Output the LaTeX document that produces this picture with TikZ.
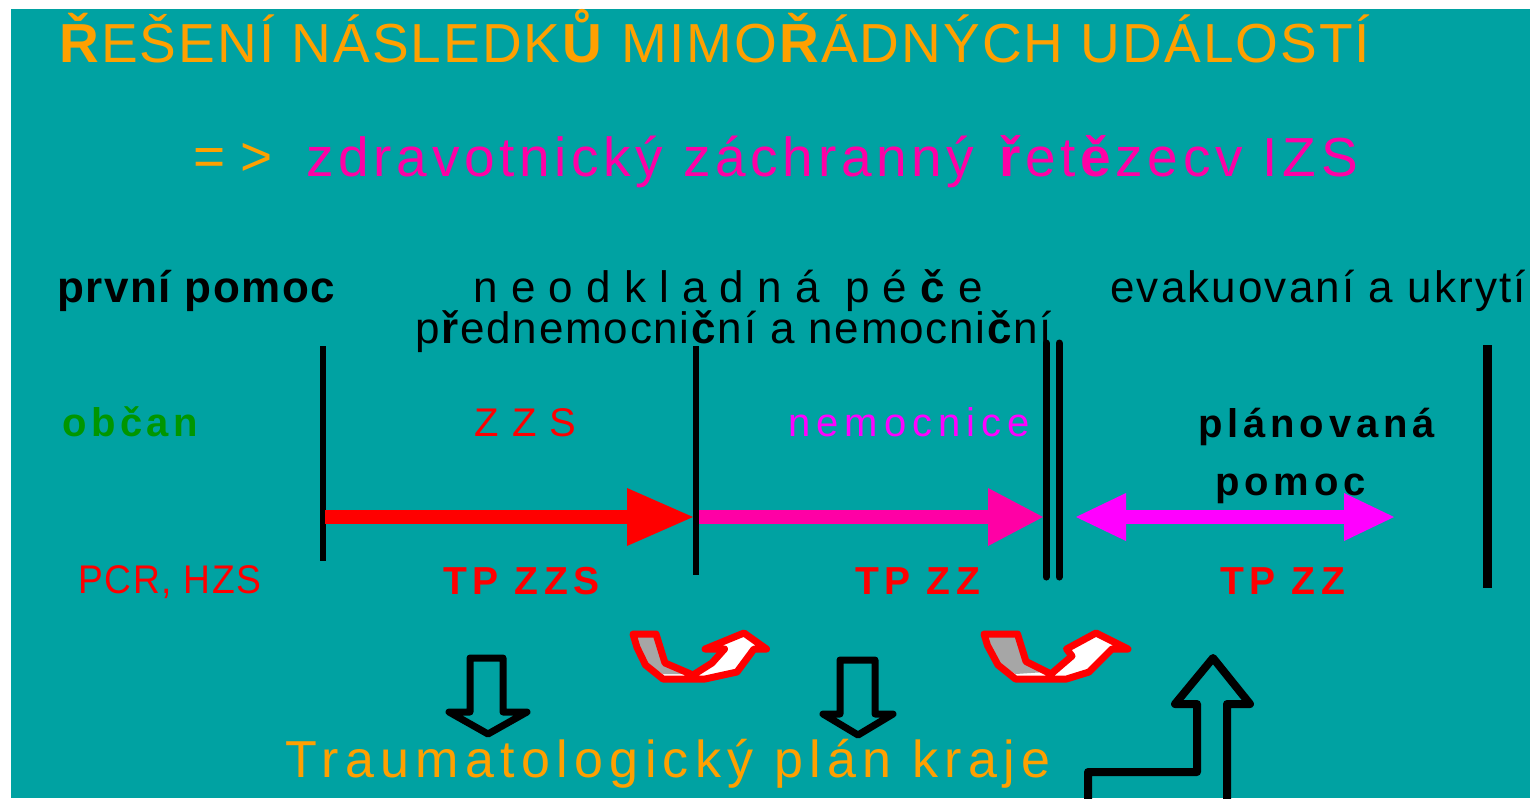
\documentclass[tikz,border=0pt]{standalone}
\usepackage{fontspec}
\setmainfont{Liberation Sans}
\newfontfamily\narrowfont[FakeStretch=0.93]{Liberation Sans}
\usetikzlibrary{arrows.meta,positioning}

\definecolor{bgteal}{RGB}{0,162,162}
\definecolor{ttlorange}{RGB}{255,160,0}
\definecolor{chainpink}{RGB}{255,0,165}
\definecolor{hospmag}{RGB}{255,0,255}
\definecolor{citgreen}{RGB}{0,150,0}
\definecolor{turngrey}{RGB}{166,166,166}

\newcommand{\lsp}[1]{\addfontfeatures{LetterSpace=#1}}
\newcommand{\fsz}[1]{\fontsize{#1}{#1}\selectfont}

\tikzset{
  lbl/.style={inner sep=0pt,anchor=base west},
  pole/.style={line width=3pt},
  fatarrow/.style={line width=7pt,-{Triangle[length=33pt,width=29pt,line width=0pt]}},
  hosparrow/.style={line width=7pt,-{Triangle[length=27.5pt,width=29pt,line width=0pt]}},
  bothways/.style={line width=7pt,{Triangle[length=25pt,width=24pt,line width=0pt]}-{Triangle[length=25pt,width=24pt,line width=0pt]}},
  uturn/.style={draw=red,line width=3.5pt,line join=round},
  hollow/.style={draw=black,line width=3.5pt,line join=round},
}

\begin{document}
\begin{tikzpicture}[x=0.5pt,y=-0.5pt]
\useasboundingbox (0,0) rectangle (1530,798);
\fill[bgteal] (11,9) rectangle (1530,798);

\node[lbl,text=ttlorange,font=\fsz{27.5}\lsp{3.7}] (title) at (59,62.5)
  {\textbf{Ř}EŠENÍ NÁSLEDK\textbf{Ů} MIMO\textbf{Ř}ÁDNÝCH UDÁLOSTÍ};
\node[lbl,text=ttlorange,font=\fsz{27.5}] (impl) at (193,175) {= >};
\node[lbl,text=chainpink,font=\fsz{27.5}\lsp{8.5}] (chain) at (306,176)
  {zdravotnický záchranný \textbf{ř}et\textbf{ě}zecv IZS};

\node[lbl,font=\fsz{22}\bfseries\lsp{3.4}] (first) at (57,302) {první pomoc};
\node[lbl,font=\fsz{22}\lsp{30}] (urgent) at (473,302) {neodkladná pé\textbf{č}e};
\node[lbl,font=\fsz{22}\lsp{4}] (prehosp) at (415,343)
  {p\textbf{ř}ednemocni\textbf{č}ní a nemocni\textbf{č}ní};
\node[lbl,font=\fsz{22}\lsp{4.8}] (evac) at (1110,302) {evakuovaní a ukrytí};

\node[lbl,text=citgreen,font=\fsz{20}\bfseries\lsp{11}] (citizen) at (62,436) {občan};
\node[lbl,text=red,font=\fsz{20}\lsp{33}] (zzs) at (474,436) {ZZS};
\node[lbl,text=hospmag,font=\fsz{20}\lsp{15}] (hosp) at (788,436) {nemocnice};
\node[lbl,font=\fsz{20}\bfseries\lsp{12}] (planned) at (1198,437) {plánovaná};
\node[lbl,font=\fsz{20}\bfseries\lsp{12}] (help) at (1215,495) {pomoc};

\node[lbl,text=red,font=\fsz{20}\narrowfont\lsp{4}] (pcr) at (78,593) {PCR, HZS};
\node[lbl,text=red,font=\fsz{19.5}\bfseries\lsp{14}] (tpzzs) at (443,594) {TP ZZS};
\node[lbl,text=red,font=\fsz{19.5}\bfseries\lsp{14}] (tpzz) at (855,594) {TP ZZ};
\node[lbl,text=red,font=\fsz{19.5}\bfseries\lsp{14}] (tpzzb) at (1220,594) {TP ZZ};

\node[lbl,text=ttlorange,font=\fsz{26}\lsp{12.2}] (plan) at (285,777) {Traumatologický plán kraje};

\coordinate (p1t) at (323,346); \coordinate (p1b) at (323,561);
\coordinate (p2t) at (696,346); \coordinate (p2b) at (696,575);
\coordinate (p3t) at (1046,343); \coordinate (p3b) at (1046,577);
\coordinate (p4t) at (1059,343); \coordinate (p4b) at (1059,577);
\coordinate (p5t) at (1487.5,345); \coordinate (p5b) at (1487.5,588);
\draw[pole] (p1t) -- (p1b);
\draw[pole] (p2t) -- (p2b);
\draw[pole,line width=3.5pt,line cap=round] (p3t) -- (p3b);
\draw[pole,line width=3.5pt,line cap=round] (p4t) -- (p4b);
\draw[pole,line width=4.5pt] (p5t) -- (p5b);

\coordinate (zzsA) at (325,517); \coordinate (zzsB) at (693,517);
\coordinate (hospA) at (699,517); \coordinate (hospB) at (1043,517);
\coordinate (evacA) at (1076,517); \coordinate (evacB) at (1394,517);
\path (zzsA) edge[fatarrow,red] (zzsB)
      (hospA) edge[hosparrow,chainpink] (hospB)
      (evacA) edge[bothways,hospmag] (evacB);

\fill[white] (633,634) -- (656,634) -- (665,663) -- (693,675) -- (712,663) -- (724.5,649) -- (705,649)
  -- (744,633) -- (766.5,649) -- (754,649) -- (737,672) -- (705,679) -- (663,679) -- (645.5,665) -- (637,647.5) -- cycle;
\fill[turngrey] (633,634) -- (656,634) -- (665,663) -- (688,674) -- (663,674) -- (645.5,663) -- (637,647.5) -- cycle;
\draw[uturn] (633,634) -- (656,634) -- (665,663) -- (693,675) -- (712,663) -- (724.5,649) -- (705,649)
  -- (744,633) -- (766.5,649) -- (754,649) -- (737,672) -- (705,679) -- (663,679) -- (645.5,665) -- (637,647.5) -- cycle;

\fill[white] (984,634) -- (1017.5,634) -- (1026,661.5) -- (1051,674) -- (1072,656) -- (1066.5,649) -- (1096,633)
  -- (1128,649) -- (1112,649) -- (1089,672) -- (1066.5,679) -- (1015.5,679) -- (998,665) -- (987.5,645.5) -- cycle;
\fill[turngrey] (984,634) -- (1017.5,634) -- (1026,661.5) -- (1046,672) -- (1015.5,674) -- (998,663) -- (987.5,645.5) -- cycle;
\draw[uturn] (984,634) -- (1017.5,634) -- (1026,661.5) -- (1051,674) -- (1072,656) -- (1066.5,649) -- (1096,633)
  -- (1128,649) -- (1112,649) -- (1089,672) -- (1066.5,679) -- (1015.5,679) -- (998,665) -- (987.5,645.5) -- cycle;

\draw[hollow] (470,658) -- (503,658) -- (503,712) -- (527,712) -- (488,734) -- (449,712) -- (470,712) -- cycle;
\draw[hollow] (840,660) -- (875,660) -- (875,714) -- (893,714) -- (858,735) -- (823,714) -- (840,714) -- cycle;
\draw[hollow,line width=4pt] (1088,806) -- (1088,772) -- (1197,772) -- (1197,704) -- (1175,704) -- (1213,658)
  -- (1250,704) -- (1227,704) -- (1227,806);
\end{tikzpicture}
\end{document}
